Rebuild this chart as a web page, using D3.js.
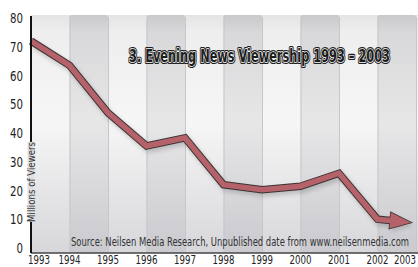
<!DOCTYPE html>
<html>
<head>
<meta charset="utf-8">
<script src="https://cdn.jsdelivr.net/npm/d3@7"></script>
<style>
  html, body { margin: 0; padding: 0; background: #fff; }
  svg { display: block; }
  text { font-family: "Liberation Sans Narrow", "DejaVu Sans Condensed", "Roboto Condensed", sans-serif; }
</style>
</head>
<body>
<div id="chart"></div>
<script>
const years = [1993, 1994, 1995, 1996, 1997, 1998, 1999, 2000, 2001, 2002, 2003];
const viewers = [72, 63.5, 47, 35.5, 38.3, 22, 20.3, 21.5, 26, 10, 8.7];
const yTicks = [0, 10, 20, 30, 40, 50, 60, 70, 80];
const titleText = "3. Evening News Viewership 1993 \u2013 2003";
const sourceText = "Source: Neilsen Media Research, Unpublished date from www.neilsenmedia.com";
const yTitle = "Millions of Viewers";

const width = 418, height = 267;
const plotLeft = 31, plotRight = 416, plotTop = 15, plotBottom = 253;

const x = d3.scaleLinear().domain([1993, 2003]).range([plotLeft, plotRight]);
const y = d3.scaleLinear().domain([0, 80]).range([248, 18]);

const svg = d3.select("#chart").append("svg")
    .attr("width", width)
    .attr("height", height);

const defs = svg.append("defs");
function grad(id, stops) {
    const g = defs.append("linearGradient").attr("id", id)
        .attr("x1", 0).attr("y1", 0).attr("x2", 0).attr("y2", 1);
    stops.forEach(s => g.append("stop").attr("offset", s[0]).attr("stop-color", s[1]));
}
grad("lightBand", [[0, "#e4e4e5"], [0.07, "#eeeeef"], [0.45, "#f6f6f6"], [1, "#d7d7db"]]);
grad("darkBand", [[0, "#c9c9cb"], [0.07, "#d8d8da"], [0.45, "#e7e7e8"], [1, "#cacacf"]]);

const shadow = defs.append("filter").attr("id", "blur")
    .attr("x", "-10%").attr("y", "-10%").attr("width", "120%").attr("height", "120%");
shadow.append("feGaussianBlur").attr("stdDeviation", 2);

// background bands, one per year interval
const bands = d3.range(years.length - 1);
svg.append("rect")
    .attr("x", plotLeft).attr("y", plotTop)
    .attr("width", width - plotLeft).attr("height", plotBottom - plotTop)
    .attr("fill", "url(#lightBand)");
svg.selectAll(".band")
    .data(bands.filter(i => i % 2 === 1))
    .enter().append("rect")
    .attr("class", "band")
    .attr("x", i => x(years[i]))
    .attr("y", plotTop)
    .attr("rx", 2)
    .attr("width", i => x(years[i + 1]) - x(years[i]))
    .attr("height", plotBottom - plotTop)
    .attr("fill", "url(#darkBand)");
svg.selectAll(".divider")
    .data(years.slice(1))
    .enter().append("line")
    .attr("x1", d => x(d) + 0.5).attr("x2", d => x(d) + 0.5)
    .attr("y1", plotTop + 2).attr("y2", plotBottom)
    .attr("stroke", "#c6c6cb")
    .attr("stroke-width", 1);

// line with arrow head
const pts = years.map((yr, i) => [x(yr), y(viewers[i])]);
const n = pts.length;
const a = pts[n - 2], b = pts[n - 1];
const len = Math.hypot(b[0] - a[0], b[1] - a[1]);
const ux = (b[0] - a[0]) / len, uy = (b[1] - a[1]) / len;
const tip = [b[0] - ux * 5, b[1] - uy * 5];
const headLen = 21, headW = 8;
const base = [tip[0] - ux * headLen, tip[1] - uy * headLen];
const head = [
    tip,
    [base[0] - uy * headW, base[1] + ux * headW],
    [base[0] + uy * headW, base[1] - ux * headW]
];
const shaft = pts.slice(0, n - 1).concat([[base[0] + ux * 3, base[1] + uy * 3]]);

const line = d3.line();

const sh = svg.append("g").attr("transform", "translate(2,3)").attr("filter", "url(#blur)").attr("opacity", 0.3);
sh.append("path").attr("d", line(shaft)).attr("fill", "none").attr("stroke", "#666").attr("stroke-width", 8);
sh.append("path").attr("d", line(head) + "Z").attr("fill", "#666");

svg.append("path").attr("d", line(shaft))
    .attr("fill", "none").attr("stroke", "#3b3333")
    .attr("stroke-width", 7.5).attr("stroke-linejoin", "miter");
svg.append("path").attr("d", line(head) + "Z")
    .attr("fill", "#3b3333").attr("stroke", "#3b3333").attr("stroke-width", 1.5)
    .attr("stroke-linejoin", "miter");
svg.append("path").attr("d", line(shaft))
    .attr("fill", "none").attr("stroke", "#b5626a")
    .attr("stroke-width", 5.5).attr("stroke-linejoin", "miter");
svg.append("path").attr("d", line(head) + "Z")
    .attr("fill", "#b5626a");

// axes
svg.append("line")
    .attr("x1", plotLeft).attr("x2", width)
    .attr("y1", plotBottom).attr("y2", plotBottom)
    .attr("stroke", "#444").attr("stroke-width", 1.5);
svg.append("line")
    .attr("x1", plotLeft).attr("x2", plotLeft)
    .attr("y1", plotTop + 1).attr("y2", plotBottom)
    .attr("stroke", "#111").attr("stroke-width", 2);

svg.selectAll(".ytick")
    .data(yTicks)
    .enter().append("text")
    .attr("class", "ytick")
    .attr("x", 23)
    .attr("y", d => y(d))
    .attr("dy", "0.36em")
    .attr("text-anchor", "end")
    .attr("font-size", 14)
    .attr("fill", "#222")
    .attr("textLength", d => String(d).length * 6.5)
    .attr("lengthAdjust", "spacingAndGlyphs")
    .text(d => d);

svg.selectAll(".xtick")
    .data(years)
    .enter().append("text")
    .attr("class", "xtick")
    .attr("x", d => x(d))
    .attr("dx", (d, i) => i === 0 ? 8 : (i === years.length - 1 ? -11 : 0))
    .attr("y", 264)
    .attr("text-anchor", "middle")
    .attr("font-size", 12.5)
    .attr("fill", "#222")
    .attr("textLength", 22)
    .attr("lengthAdjust", "spacingAndGlyphs")
    .text(d => d);

// y axis title sitting on the axis line
const yt = svg.append("g").attr("transform", `translate(${plotLeft}, ${y(23)}) rotate(-90)`);
yt.append("rect")
    .attr("x", -40).attr("y", -3.5)
    .attr("width", 80).attr("height", 7)
    .attr("fill", "#e0e0e2");
yt.append("text")
    .attr("text-anchor", "middle")
    .attr("dy", "0.35em")
    .attr("font-size", 10.5)
    .attr("fill", "#333")
    .attr("textLength", 80)
    .attr("lengthAdjust", "spacingAndGlyphs")
    .text(yTitle);

// title with outlined lettering
const titleAttrs = sel => sel
    .attr("x", 129).attr("y", 62)
    .attr("font-size", 18.5)
    .attr("font-weight", "bold")
    .attr("textLength", 261)
    .attr("lengthAdjust", "spacingAndGlyphs")
    .text(titleText);
svg.append("text").call(titleAttrs)
    .attr("fill", "#1e1e1e").attr("stroke", "#1e1e1e").attr("stroke-width", 4)
    .attr("stroke-linejoin", "round");
svg.append("text").call(titleAttrs)
    .attr("fill", "#1e1e1e").attr("stroke", "#fff").attr("stroke-width", 1.6)
    .attr("stroke-linejoin", "round");
svg.append("text").call(titleAttrs)
    .attr("fill", "#1e1e1e");

// source note
svg.append("text")
    .attr("x", 71).attr("y", 246)
    .attr("font-size", 12)
    .attr("fill", "#333")
    .attr("textLength", 338)
    .attr("lengthAdjust", "spacingAndGlyphs")
    .text(sourceText);
</script>
</body>
</html>
